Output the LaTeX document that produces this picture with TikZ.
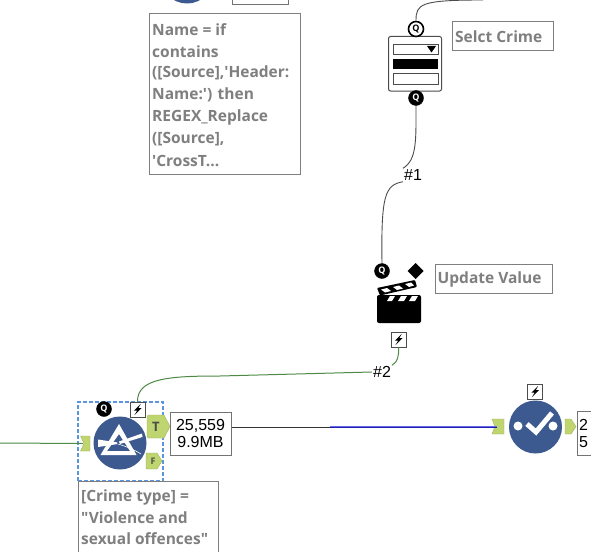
\documentclass[tikz,border=0pt]{standalone}
\usepackage{fontspec}
\setmainfont{Open Sans}
\newfontfamily\notefont{Open Sans}
\newfontfamily\countfont{Liberation Sans}
\definecolor{toolblue}{HTML}{3C5A8F}
\definecolor{anchorgreen}{HTML}{BFD56F}
\definecolor{notegray}{HTML}{7F7F7F}
\definecolor{linegreen}{HTML}{4E8A46}
\definecolor{dashblue}{HTML}{5B95E0}
\definecolor{wireblue}{HTML}{1E1EB4}
\definecolor{wirelight}{HTML}{6A6AE6}
\usetikzlibrary{calc}
\tikzset{
  notebox/.style={draw=notegray,line width=1pt,fill=white,anchor=north west,inner sep=0pt},
  notetext/.style={text=notegray,font=\notefont\fontsize{15.5}{22}\selectfont\bfseries,anchor=west,inner sep=0pt},
  qdot/.style={circle,fill=black,draw=black,text=white,minimum size=15pt,inner sep=0pt,font=\fontsize{9}{9}\selectfont\bfseries},
  boltbox/.style={draw=black!70,line width=0.8pt,fill=white,minimum size=15pt,inner sep=0pt},
  countbox/.style={draw=black!55,line width=1pt,fill=white,inner sep=0pt},
  wirelabel/.style={font=\countfont\fontsize{16}{16}\selectfont,inner sep=1pt},
  countlabel/.style={font=\countfont\fontsize{16}{17}\selectfont,inner sep=0pt},
  toolcircle/.style={circle,fill=toolblue,minimum size=53pt,inner sep=0pt},
  anchorfill/.style={fill=anchorgreen,draw=anchorgreen!85!black,line width=0.4pt},
  wire/.style={draw=black!70,line width=0.9pt},
  greenwire/.style={draw=linegreen,line width=1pt}
}
\newcommand{\boltmark}[1]{\fill[black] ($(#1)+(3.2,-5.5)$) -- ($(#1)+(-3.6,1.2)$) -- ($(#1)+(-0.4,1.2)$) -- ($(#1)+(-3,5.5)$) -- ($(#1)+(4,-1.4)$) -- ($(#1)+(0.8,-1.4)$) -- cycle;}
\begin{document}
\begin{tikzpicture}[x=1pt,y=-1pt]
\clip (0,0) rectangle (591,551);
\fill[white] (0,0) rectangle (591,551);
\node[toolcircle] (formula) at (187,-23) {};
\draw[countbox] (232,-10) rectangle (288,5);
\draw[notebox] (149,14) rectangle (300,174);
\node[notetext] (nameline1) at (152,30) {Name = if};
\node[notetext] (nameline2) at (152,52) {contains};
\node[notetext] (nameline3) at (152,73) {([Source],'Header:};
\node[notetext] (nameline4) at (152,95) {Name:') then};
\node[notetext] (nameline5) at (152,117) {REGEX\_Replace};
\node[notetext] (nameline6) at (152,139) {([Source],};
\node[notetext] (nameline7) at (152,161) {'CrossT...};
\draw[black!70,line width=1pt,rounded corners=2pt] (388.5,36.5) rectangle (441.5,91);
\draw[black!70,line width=0.8pt] (393,44) rectangle (438,54);
\fill[black] (427,46) -- (436,46) -- (431.5,52.5) -- cycle;
\fill[black] (393,59) rectangle (438,69);
\draw[black!70,line width=0.8pt] (393,73) rectangle (438,84);
\node[qdot,fill=white,line width=1.6pt,text=black] (selectin) at (416,29) {Q};
\node[qdot] (selectout) at (416,98) {Q};
\coordinate (upwire) at (483,0);
\draw[wire] (selectin.north) .. controls (416,4) and (420,0) .. (upwire);
\draw[notebox] (452,22) rectangle (553,51);
\node[notetext] (selectnote) at (455,36.5) {Selct Crime};
\node[wirelabel] (hash1) at (413,175) {\#1};
\node[qdot] (updatein) at (382,271) {Q};
\fill[black] (415.5,263) -- (423.5,271) -- (415.5,279) -- (407.5,271) -- cycle;
\draw[wire] (selectout.south) .. controls (416,140) and (417,160) .. (hash1.north west);
\draw[wire] (hash1.south west) .. controls (385,185) and (381,195) .. (updatein.north);
\fill[black,rounded corners=2pt] (377,295) -- (421,295) -- (421,323) -- (377,323) -- cycle;
\fill[white] (390,296) -- (395,296) -- (392,301) -- (387,301) -- cycle;
\fill[white] (401,296) -- (407,296) -- (404,301) -- (398,301) -- cycle;
\fill[white] (412,296) -- (418,296) -- (415,301) -- (409,301) -- cycle;
\fill[black,rounded corners=1pt] (377,288) -- (415,280) -- (417,287) -- (380,295.5) -- cycle;
\fill[white] (381,289.5) -- (387,288) -- (391,291) -- (385,292.5) -- cycle;
\fill[white] (393,287) -- (399,285.5) -- (403,288.5) -- (397,290) -- cycle;
\fill[white] (405,284) -- (411,282.5) -- (414,285.5) -- (409,287) -- cycle;
\node[boltbox] (updatebolt) at (398.5,339.5) {};
\boltmark{updatebolt}
\node[wirelabel] (hash2) at (382,372) {\#2};
\draw[notebox] (435,264) rectangle (552,293);
\node[notetext] (updatenote) at (437.5,279.5) {Update Value};
\node[draw=dashblue,line width=1.2pt,dash pattern=on 4pt off 2pt,minimum width=85pt,minimum height=79pt,inner sep=0pt] (selection) at (120.5,441.5) {};
\node[toolcircle] (filter) at (120,443) {};
\fill[white,even odd rule] (119,424) -- (136.5,455) -- (100.5,455) -- cycle (119,434) -- (107,451) -- (130,451) -- cycle;
\fill[white] (98,439.5) -- (118,442.5) -- (118,444) -- (98,447) -- cycle;
\fill[white] (119,441.5) -- (142,433.5) -- (142.5,437) -- (120,444) -- cycle;
\draw[white,line width=0.6pt] (118,444) .. controls (125,446) and (133,449) .. (141,454);
\fill[toolblue] (118,443) circle (1.2);
\node[qdot] (filterq) at (104,409) {Q};
\node[boltbox] (filterbolt) at (137.5,409.5) {};
\boltmark{filterbolt}
\fill[anchorfill] (80.5,436) -- (90,436) -- (90,451) -- (80.5,451) -- (84,443.5) -- cycle;
\coordinate (filterin) at (83,443.5);
\coordinate (offleft) at (0,443);
\draw[greenwire] (offleft) -- (filterin);
\fill[anchorfill] (147,417) -- (148,415) -- (164,415) -- (170,426.5) -- (164,438) -- (148,438) -- (147,436) -- cycle;
\node[font=\fontsize{13}{13}\selectfont\bfseries,text=black!70,inner sep=0pt] (filtert) at (156,427) {T};
\fill[anchorfill] (146,454) -- (147,453) -- (157,453) -- (162,461) -- (157,469) -- (147,469) -- (146,468) -- cycle;
\node[font=\fontsize{9}{9}\selectfont\bfseries,text=black!70,inner sep=0pt] (filterf) at (153,461) {F};
\draw[greenwire] (updatebolt.south) .. controls (399,355) and (398,362) .. (hash2.north east);
\draw[greenwire] (hash2.west) -- (220,376) .. controls (170,376) and (137,378) .. (filterbolt.north);
\node[countbox,minimum width=61pt,minimum height=43pt] (filtercount) at (200.5,433.5) {};
\node[countlabel,align=center] (filtertext) at (filtercount) {25,559\\9.9MB};
\node[toolcircle] (check) at (535.5,427) {};
\fill[white] (518,426) circle (4.5);
\fill[white] (553,426) circle (4.5);
\draw[white,line width=5pt] (527,424) -- (536,432) -- (552,413);
\node[boltbox] (checkbolt) at (535,391.5) {};
\boltmark{checkbolt}
\fill[anchorfill] (492,419) -- (504,419) -- (504,434) -- (492,434) -- (495,426.5) -- cycle;
\coordinate (checkin) at (497,427.3);
\coordinate (wirejoin) at (330,427.3);
\draw[wire,draw=black!80] (filtercount.east |- wirejoin) -- (wirejoin);
\draw[draw=wirelight,line width=1pt] ($(wirejoin)+(0,-1)$) -- ($(checkin)+(0,-1)$);
\draw[draw=wireblue,line width=1pt] (wirejoin) -- (checkin);
\fill[anchorfill] (565,419) -- (571,419) -- (576,426.5) -- (571,434) -- (565,434) -- cycle;
\node[countbox,anchor=north west,minimum width=40pt,minimum height=44pt] (checkcount) at (576.5,411) {};
\node[countlabel,align=left,anchor=west] (checktext) at (579,433) {2\\5};
\draw[notebox] (78.5,481) rectangle (218.5,560);
\node[notetext] (crimeline1) at (81,497) {[Crime type] =};
\node[notetext] (crimeline2) at (81,518) {"Violence and};
\node[notetext] (crimeline3) at (81,539) {sexual offences"};
\end{tikzpicture}
\end{document}
